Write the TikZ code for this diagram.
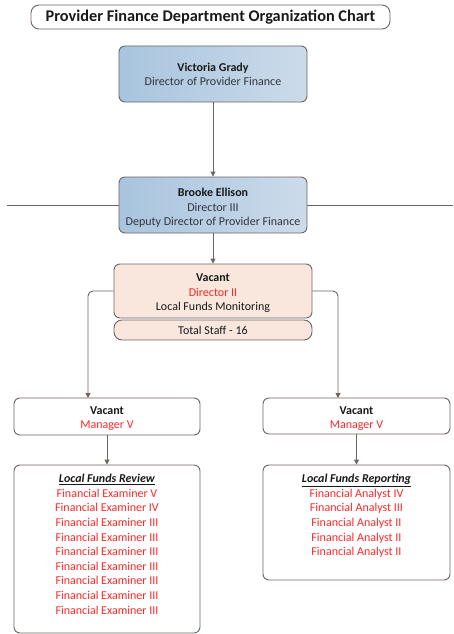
\documentclass[tikz,border=0pt]{standalone}
\usepackage{fontspec}
\setmainfont{Carlito}
\usetikzlibrary{arrows.meta}
\definecolor{edge}{RGB}{112,100,96}
\definecolor{blueL}{RGB}{168,196,222}
\definecolor{blueR}{RGB}{204,219,234}
\definecolor{peach}{RGB}{249,231,222}
\definecolor{redtxt}{RGB}{255,40,40}
\definecolor{dark}{RGB}{25,25,25}
\definecolor{sub}{RGB}{50,52,64}
\tikzset{
  box/.style={draw=edge, line width=0.9pt, rounded corners=6pt, inner sep=0pt},
  bluebox/.style={box, left color=blueL, right color=blueR},
  peachbox/.style={box, fill=peach},
  whitebox/.style={box, fill=white},
  txt/.style={align=center, inner sep=0pt, font=\fontsize{12}{14.6}\selectfont},
  conn/.style={draw=edge, line width=0.9pt, -{Triangle[length=5pt,width=5pt]}},
  hline/.style={draw=edge, line width=0.8pt},
}
\begin{document}
\begin{tikzpicture}[x=1pt,y=-1pt]
\useasboundingbox (0,0) rectangle (453,634);
% title
\node[box, fill=white, rounded corners=8pt, minimum width=359pt, minimum height=24pt,
  font=\fontsize{16.3}{18}\selectfont\bfseries, text=dark] (title) at (210.5,17) {Provider Finance Department Organization Chart};
% Victoria
\node[bluebox, minimum width=188pt, minimum height=56pt] (vic) at (213,74) {};
\node[txt, text=sub] (vict) at (213,74.5) {\textcolor{dark}{\textbf{Victoria Grady}}\\Director of Provider Finance};
% Brooke
\node[bluebox, minimum width=188pt, minimum height=56pt] (bro) at (213,205) {};
\node[txt, text=sub] (brot) at (213,208) {\textcolor{dark}{\textbf{Brooke Ellison}}\\Director III\\Deputy Director of Provider Finance};
% Director II
\node[peachbox, minimum width=198pt, minimum height=54pt] (dir) at (213,291) {};
\node[txt, text=dark] (dirt) at (213,293.5) {\textbf{Vacant}\\\textcolor{redtxt}{Director II}\\Local Funds Monitoring};
\node[peachbox, minimum width=198pt, minimum height=20pt, rounded corners=8pt] (tot) at (213,330) {};
\node[txt, text=dark] (tott) at (213,330.5) {Total Staff - 16};
% managers
\node[whitebox, minimum width=186pt, minimum height=37pt] (mgrL) at (107,416.5) {};
\node[txt, text=dark] (mgrLt) at (107,418.5) {\textbf{Vacant}\\\textcolor{redtxt}{Manager V}};
\node[whitebox, minimum width=187pt, minimum height=36pt] (mgrR) at (356.5,416) {};
\node[txt, text=dark] (mgrRt) at (356.5,418.5) {\textbf{Vacant}\\\textcolor{redtxt}{Manager V}};
% lists
\node[whitebox, minimum width=186pt, minimum height=168pt] (listL) at (107,549) {};
\node[txt, text=redtxt, anchor=north] (listLt) at (107,474) {\textcolor{dark}{\underline{\textbf{\textit{Local Funds Review}}}}\\
Financial Examiner V\\Financial Examiner IV\\Financial Examiner III\\Financial Examiner III\\Financial Examiner III\\Financial Examiner III\\Financial Examiner III\\Financial Examiner III\\Financial Examiner III};
\node[whitebox, minimum width=187pt, minimum height=115pt] (listR) at (356.5,522.5) {};
\node[txt, text=redtxt, anchor=north] (listRt) at (356.5,474) {\textcolor{dark}{\underline{\textbf{\textit{Local Funds Reporting}}}}\\
Financial Analyst IV\\Financial Analyst III\\Financial Analyst II\\Financial Analyst II\\Financial Analyst II};
% connectors
\coordinate (hl) at (7,205);
\coordinate (hr) at (453,205);
\coordinate (mL) at (88,398);
\coordinate (mR) at (338,398);
\draw[hline] (hl) -- (bro.west);
\draw[hline] (bro.east) -- (hr);
\draw[conn] (vic.south) -- (bro.north);
\draw[conn] (bro.south) -- (dir.north);
\draw[conn, rounded corners=5pt] (dir.west) -| (mL);
\draw[conn, rounded corners=5pt] (dir.east) -| (mR);
\draw[conn] (mgrL.south) -- (listL.north);
\draw[conn] (mgrR.south) -- (listR.north);
\end{tikzpicture}
\end{document}
